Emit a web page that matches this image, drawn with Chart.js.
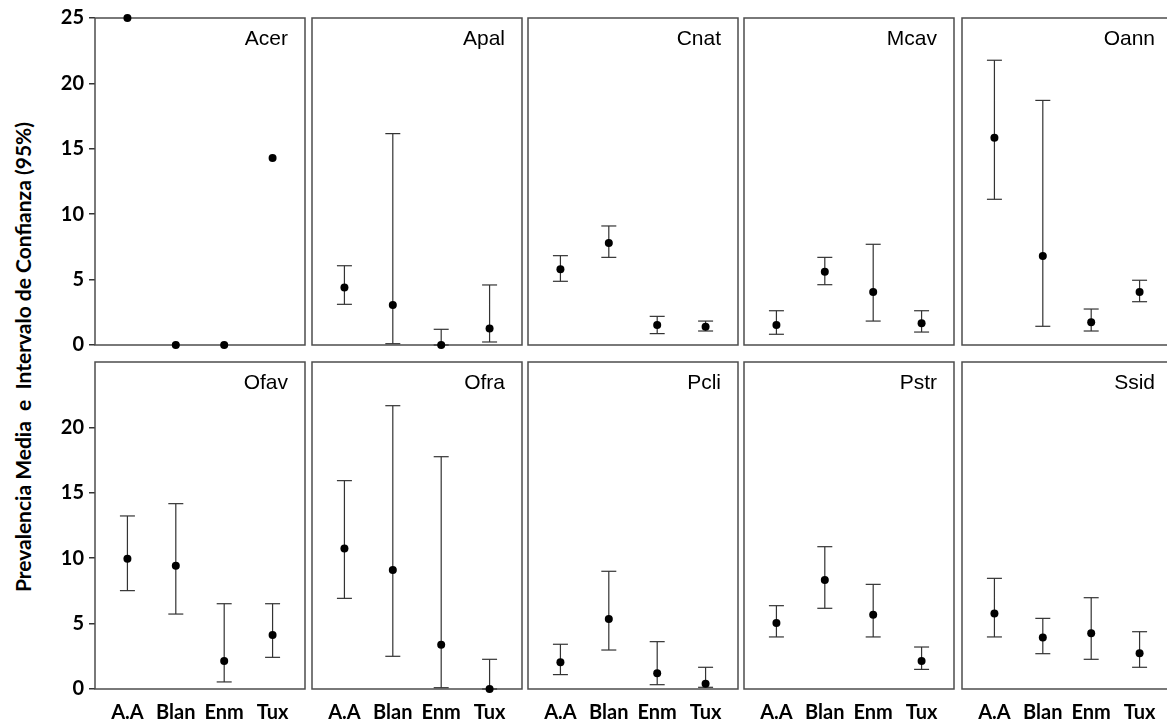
<!DOCTYPE html>
<html>
<head>
<meta charset="utf-8">
<script src="https://cdn.jsdelivr.net/npm/chart.js@4.4.1/dist/chart.umd.min.js"></script>
<style>
  html, body { margin: 0; padding: 0; background: #fff; overflow: hidden; }
  #board { position: relative; width: 1167px; height: 723px; overflow: hidden; }
  #board canvas { position: absolute; }
  .ytitle {
    position: absolute; left: 22px; top: 357px;
    transform: translate(-50%, -50%) rotate(-90deg);
    white-space: pre; font: bold 21px Lato, sans-serif; color: #000;
  }
</style>
</head>
<body>
<div id="board">
  <div class="ytitle">Prevalencia Media  e  Intervalo de Confianza (95%)</div>
</div>
<script>
"use strict";

const groups = ["A.A", "Blan", "Enm", "Tux"];
const species = ["Acer", "Apal", "Cnat", "Mcav", "Oann", "Ofav", "Ofra", "Pcli", "Pstr", "Ssid"];
const yTicks = [0, 5, 10, 15, 20, 25];

// one row per species, one value per group
const meanValues = [
  [25, 0, 0, 14.3],
  [4.4, 3.05, 0, 1.27],
  [5.8, 7.8, 1.53, 1.4],
  [1.53, 5.6, 4.05, 1.66],
  [15.85, 6.8, 1.73, 4.05],
  [9.96, 9.43, 2.14, 4.13],
  [10.75, 9.1, 3.39, 0],
  [2.04, 5.35, 1.2, 0.41],
  [5.05, 8.33, 5.68, 2.14],
  [5.78, 3.93, 4.26, 2.73],
];
const lowerCI = [
  [null, null, null, null],
  [3.11, 0.1, 0, 0.23],
  [4.87, 6.7, 0.87, 1.07],
  [0.82, 4.61, 1.83, 0.99],
  [11.14, 1.43, 1.07, 3.31],
  [7.52, 5.73, 0.54, 2.42],
  [6.93, 2.5, 0.1, 0],
  [1.1, 2.98, 0.33, 0.13],
  [3.98, 6.17, 3.98, 1.5],
  [3.98, 2.7, 2.27, 1.66],
];
const upperCI = [
  [null, null, null, null],
  [6.06, 16.16, 1.2, 4.59],
  [6.83, 9.1, 2.19, 1.83],
  [2.62, 6.7, 7.7, 2.62],
  [21.77, 18.7, 2.75, 4.95],
  [13.23, 14.17, 6.52, 6.52],
  [15.93, 21.66, 17.76, 2.27],
  [3.42, 9.0, 3.62, 1.66],
  [6.37, 10.88, 8.0, 3.21],
  [8.46, 5.4, 6.98, 4.38],
];

// panel grid
const colLeft = [95, 312, 528, 744, 962];
const rowTop = [18, 362];
const panelW = 210;
const panelH = 327;
const pad = 20;

Chart.defaults.font.family = "Lato";

const panelFrame = {
  id: "panelFrame",
  beforeDatasetsDraw(chart, args, opts) {
    const { ctx, chartArea: a } = chart;
    ctx.save();
    ctx.strokeStyle = "#4d4d4d";
    ctx.lineWidth = 1.5;
    ctx.strokeRect(a.left, a.top, a.right - a.left, a.bottom - a.top);
    ctx.font = '21px "Liberation Sans", Arial, sans-serif';
    ctx.fillStyle = "#000";
    ctx.textAlign = "right";
    ctx.textBaseline = "middle";
    ctx.fillText(opts.title, a.right - 17, a.top + 21);
    ctx.restore();
  },
};

const board = document.getElementById("board");
const boldTicks = { family: "Lato", weight: "bold", size: 20 };

species.forEach((name, k) => {
  const row = Math.floor(k / 5);
  const col = k % 5;
  const L = colLeft[col];
  const T = rowTop[row];
  const cLeft = col === 0 ? 0 : L - 6;
  const cTop = T - pad;
  const cRight = L + panelW + 6;
  const cBottom = row === 1 ? 723 : T + panelH + pad;

  const canvas = document.createElement("canvas");
  canvas.width = cRight - cLeft;
  canvas.height = cBottom - cTop;
  canvas.style.left = cLeft + "px";
  canvas.style.top = cTop + "px";
  board.appendChild(canvas);

  const points = groups.map((g, i) => ({ x: i, y: meanValues[k][i] }));
  const bars = [];
  groups.forEach((g, i) => {
    if (lowerCI[k][i] === null) return;
    bars.push({ x: i, y: lowerCI[k][i] }, { x: i, y: upperCI[k][i] }, { x: i, y: null });
  });

  new Chart(canvas, {
    type: "line",
    data: {
      datasets: [
        {
          data: points,
          showLine: false,
          pointRadius: 4,
          pointBorderWidth: 0,
          pointBackgroundColor: "#000",
          clip: false,
        },
        {
          data: bars,
          spanGaps: false,
          borderColor: "#333",
          borderWidth: 1.2,
          pointStyle: "line",
          pointRadius: 7.5,
          pointBorderColor: "#333",
          pointBorderWidth: 1.2,
          clip: false,
        },
      ],
    },
    options: {
      responsive: false,
      animation: false,
      events: [],
      layout: {
        autoPadding: false,
        padding: { left: col === 0 ? 0 : 6, right: 6, top: pad, bottom: row === 1 ? 0 : pad },
      },
      plugins: {
        legend: { display: false },
        tooltip: { enabled: false },
        panelFrame: { title: name },
      },
      scales: {
        x: {
          type: "linear",
          min: -0.67,
          max: 3.67,
          display: row === 1,
          afterBuildTicks: (s) => { s.ticks = groups.map((g, i) => ({ value: i })); },
          afterFit: (s) => { s.height = row === 1 ? 34 : 0; },
          ticks: {
            callback: (v) => groups[v],
            font: boldTicks,
            color: "#000",
            padding: 12,
            maxRotation: 0,
          },
          grid: { display: false, drawTicks: false },
          border: { display: false },
        },
        y: {
          type: "linear",
          min: 0,
          max: 25,
          display: col === 0,
          afterBuildTicks: (s) => {
            s.ticks = yTicks.filter((v) => row === 0 || v < 25).map((v) => ({ value: v }));
          },
          afterFit: (s) => { s.width = col === 0 ? L - cLeft : 0; },
          ticks: { font: boldTicks, color: "#000", padding: 5 },
          grid: { drawOnChartArea: false, drawTicks: true, tickLength: 6, color: "#333", lineWidth: 1.5 },
          border: { display: false },
        },
      },
    },
    plugins: [panelFrame],
  });
});
</script>
</body>
</html>
